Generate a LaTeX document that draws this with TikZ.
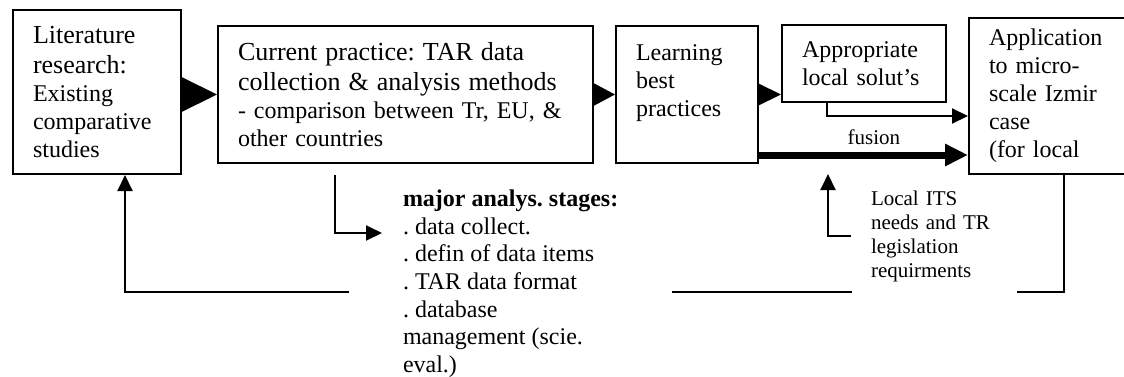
\documentclass[tikz,border=0pt]{standalone}
\usepackage{fontspec}
\setmainfont{Liberation Serif}
\usetikzlibrary{arrows.meta}
\frenchspacing

\newcommand{\hdsize}{\fontsize{13}{15}\selectfont}
\newcommand{\bdsize}{\fontsize{12}{14}\selectfont}

\begin{document}
\begin{tikzpicture}[x=0.5pt, y=-0.5pt, line width=1pt,
    box/.style={draw, anchor=north west, inner xsep=10pt, inner ysep=0pt, align=left, font=\bdsize},
    note/.style={anchor=north west, fill=white, inner ysep=0pt, align=left},
    conn/.style={-{Triangle[length=8pt, width=7.5pt]}}]
    \useasboundingbox (0,0) rectangle (1124,376);
    \clip (0,0) rectangle (1124,376);
    \node[box, text width=64pt, minimum height=82pt] (lit) at (12,9)
        {\hdsize Literature\\research:\par\bdsize Existing\\comparative\\studies};
    \node[box, text width=167.5pt, minimum height=68.5pt] (cur) at (217,25)
        {\hdsize Current practice: TAR data\\collection \& analysis methods\par\bdsize - comparison between Tr, EU, \&\\other countries};
    \node[box, text width=51pt, minimum height=68.5pt] (learn) at (615,25) {Learning\\best\\practices\\\mbox{}};
    \node[box, text width=62pt, minimum height=38.5pt] (appr) at (781,24) {Appropriate\\local solut’s};
    \node[box, text width=75pt, minimum height=78pt] (appl) at (968,17)
        {Application\\to micro-\\scale Izmir\\case\\(for local};
    \draw[-{Triangle[length=18.5pt, width=18pt]}] (lit.east |- cur.west) -- (cur.west);
    \draw[-{Triangle[length=11.5pt, width=12pt]}] (cur.east) -- (learn.west);
    \draw[-{Triangle[length=11.5pt, width=11pt]}] (learn.east) -- (learn.east -| appr.west);
    \draw[conn] ([xshift=23pt]appr.south west) |- ([yshift=-10pt]appl.west);
    \coordinate (fuse) at ([yshift=4.5pt]learn.south east);
    \draw[line width=3.5pt, -{Triangle[length=11.5pt, width=10.5pt]}] (fuse) -- (fuse -| appl.west)
        node[pos=0.55, above=0pt, font=\fontsize{10.5}{12}\selectfont] {fusion};
    %% feedback to the literature box
    \draw[conn] (appl.south) -- ++(0,117) -| ([xshift=14pt]lit.south);
    \node[note, inner xsep=27pt, font=\fontsize{12}{13.8}\selectfont] (stages) at (348,189)
        {\textbf{major analys. stages:}\\. data collect.\\. defin of data items\\. TAR data format\\. database\\management (scie.\\eval.)};
    \node[note, inner xsep=9.5pt, text width=63.5pt, minimum height=59pt, font=\fontsize{10.5}{12}\selectfont] (local) at (851,176)
        {Local ITS\\needs and TR\\legislation\\requirments};
    \coordinate (collect) at (382,233);
    \coordinate (itsneed) at (828,174);
    \draw[conn] ([xshift=59pt, yshift=-5.5pt]cur.south west) |- (collect);
    \draw[conn] (local.west) -| (itsneed);
\end{tikzpicture}
\end{document}
